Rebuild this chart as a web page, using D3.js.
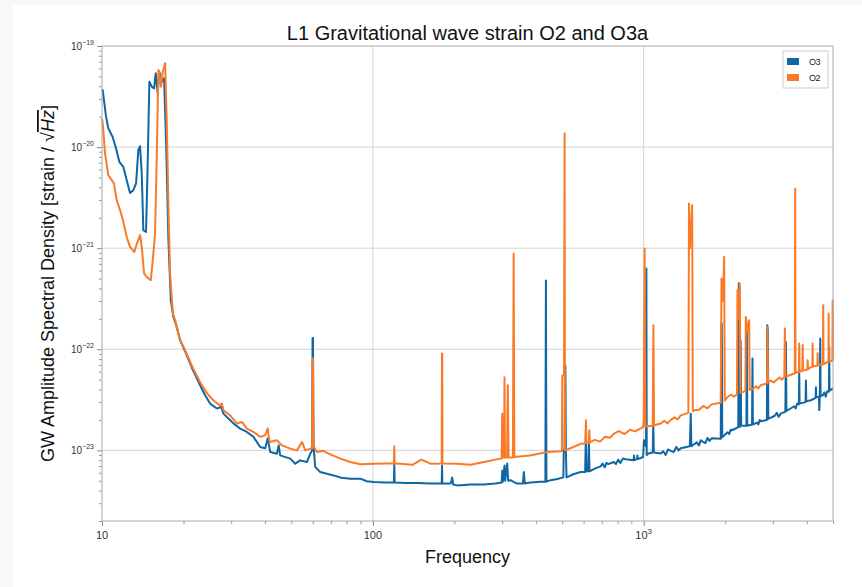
<!DOCTYPE html>
<html>
<head>
<meta charset="utf-8">
<script src="https://cdn.jsdelivr.net/npm/d3@7"></script>
<style>
  body { margin: 0; background: #f8f8f8; }
  svg { display: block; }
</style>
</head>
<body>
<div id="chart"></div>
<script>
// O3 (blue) and O2 (orange) amplitude spectral density, [frequency Hz, strain/sqrt(Hz)]
const o3 = [
  [10.0, 3.7e-20], [10.06, 3.66e-20], [10.35, 2.0e-20], [10.55, 1.53e-20], [10.95, 1.26e-20], [11.27, 9.7e-21],
  [11.59, 7.15e-21], [11.99, 6.38e-21], [12.34, 4.71e-21], [12.69, 3.51e-21], [13.05, 3.75e-21], [13.36, 4.37e-21],
  [13.62, 9.34e-21], [13.82, 1.02e-20], [14.02, 5.49e-21], [14.21, 1.51e-21], [14.54, 1.45e-21], [14.70, 4.71e-21],
  [14.96, 4.43e-20], [15.27, 3.96e-20], [15.57, 3.81e-20], [15.79, 5.37e-20], [16.06, 3.40e-20], [16.28, 5.57e-20],
  [16.63, 4.43e-20], [16.95, 4.79e-20], [17.24, 1.17e-20], [17.59, 1.20e-21], [17.95, 3.05e-22], [18.35, 2.09e-22],
  [18.88, 1.66e-22], [19.42, 1.23e-22], [20.27, 9.55e-23], [21.51, 6.49e-23], [23.03, 4.41e-23], [24.03, 3.51e-23],
  [25.07, 2.90e-23], [26.55, 2.59e-23], [27.54, 2.69e-23], [28.08, 2.31e-23], [30.57, 1.84e-23], [32.37, 1.64e-23],
  [34.27, 1.52e-23], [36.25, 1.36e-23], [38.37, 1.08e-23], [40.05, 1.05e-23], [40.91, 1.32e-23], [41.80, 9.62e-24],
  [44.25, 9.27e-24], [44.9, 1.12e-23], [45.5, 8.91e-24], [49.55, 8.28e-24], [51.71, 7.38e-24], [53.95, 7.96e-24],
  [57.11, 7.66e-24], [58.75, 9.27e-24], [59.7, 1.0e-23], [59.9, 1.29e-22], [60.1, 1.29e-22], [60.4, 1.1e-23],
  [61.28, 6.84e-24], [63.03, 6.34e-24], [63.95, 6.10e-24], [71.62, 5.65e-24], [76.5, 5.35e-24], [82.57, 5.25e-24],
  [89.9, 5.25e-24], [95, 4.95e-24], [100.7, 4.86e-24], [111.2, 4.8e-24], [119.6, 4.8e-24], [120.0, 7.4e-24],
  [120.4, 4.8e-24], [131.9, 4.75e-24], [145.7, 4.75e-24], [163.2, 4.7e-24], [179.6, 4.7e-24], [180.1, 7.1e-24],
  [180.6, 4.7e-24], [194, 4.7e-24], [196.3, 5.4e-24], [198, 4.6e-24], [204.8, 4.5e-24], [229.4, 4.6e-24],
  [256.9, 4.6e-24], [283.8, 4.7e-24], [299, 4.8e-24], [300.4, 6.3e-24], [302, 4.9e-24], [306.3, 7.1e-24],
  [308, 5.0e-24], [313.4, 7.4e-24], [316, 5.0e-24], [322.3, 5.07e-24], [339.2, 4.7e-24], [358, 4.7e-24],
  [361, 6.1e-24], [364, 4.7e-24], [382.2, 4.8e-24], [416.2, 4.9e-24], [433.5, 4.9e-24], [435.5, 4.8e-22],
  [437.5, 4.9e-24], [453.3, 5.07e-24], [480, 5.2e-24], [505, 5.4e-24], [507, 1.0e-23], [510, 1.0e-23],
  [512, 4.0e-23], [514, 6.9e-23], [516, 1.0e-23], [519, 5.4e-24], [550, 5.8e-24], [584.9, 6.1e-24],
  [608, 6.1e-24], [612, 1.58e-23], [615, 6.2e-24], [624, 6.2e-24], [628, 1.16e-23], [631, 6.2e-24],
  [660, 6.6e-24], [693.6, 6.95e-24], [705, 7.4e-24], [718, 6.8e-24], [728, 7.5e-24], [740, 7.3e-24],
  [776.8, 7.66e-24], [790, 7.3e-24], [805, 8.1e-24], [820, 7.5e-24], [838, 8.3e-24], [858, 8.15e-24],
  [918, 8.0e-24], [921, 8.9e-24], [924, 8.0e-24], [945, 8.2e-24], [948, 8.9e-24], [951, 8.2e-24],
  [974.8, 8.4e-24], [995, 8.6e-24], [1002.5, 1.26e-23], [1020, 1.1e-23], [1023, 6.3e-22], [1026, 9.0e-24],
  [1040, 9.3e-24], [1080, 9.5e-24], [1085, 1.9e-23], [1090, 9.5e-24], [1156, 9.3e-24], [1180, 9.8e-24],
  [1205, 9.0e-24], [1230, 1.02e-23], [1260, 9.9e-24], [1290, 9.6e-24], [1320, 1.08e-23], [1345, 1.0e-23],
  [1370, 1.05e-23], [1480, 1.1e-23], [1492, 2.3e-23], [1500, 1.1e-23], [1535, 1.15e-23], [1570, 1.2e-23],
  [1600, 1.12e-23], [1625, 1.26e-23], [1650, 1.22e-23], [1690, 1.18e-23], [1720, 1.33e-23], [1750, 1.24e-23],
  [1784, 1.32e-23], [1925, 1.3e-23], [1936, 1.8e-22], [1942, 1.8e-22], [1950, 1.35e-23], [2039, 1.51e-23],
  [2070, 1.45e-23], [2095, 1.6e-23], [2120, 1.58e-23], [2235, 1.7e-23], [2245, 4.5e-22], [2255, 4.0e-22],
  [2265, 1.7e-23], [2280, 1.23e-22], [2290, 1.75e-23], [2395, 1.75e-23], [2403, 1.54e-22], [2412, 1.75e-23],
  [2512, 1.8e-23], [2522, 8.1e-23], [2530, 1.8e-23], [2620, 1.88e-23], [2650, 1.8e-23], [2680, 2.0e-23],
  [2707, 1.94e-23], [2850, 2.0e-23], [2860, 1.73e-22], [2875, 1.5e-22], [2885, 2.05e-23], [3050, 2.2e-23],
  [3100, 2.35e-23], [3150, 2.15e-23], [3210, 2.32e-23], [3335, 2.4e-23], [3350, 1.18e-22], [3365, 2.45e-23],
  [3595, 2.73e-23], [3640, 2.6e-23], [3690, 2.9e-23], [3740, 2.85e-23], [3752, 5.75e-23], [3765, 2.9e-23],
  [3960, 3.0e-23], [3972, 4.9e-23], [3985, 3.05e-23], [4144, 3.13e-23], [4315, 3.3e-23], [4325, 4.2e-23],
  [4335, 3.35e-23], [4440, 3.4e-23], [4448, 2.5e-23], [4470, 3.4e-23], [4486, 1.28e-22], [4500, 3.45e-23],
  [4591, 3.51e-23], [4650, 3.75e-23], [4700, 3.4e-23], [4760, 3.85e-23], [4830, 3.8e-23], [4842, 1.05e-22],
  [4855, 3.9e-23], [5000, 4.11e-23]
];

const o2 = [
  [10.0, 1.9e-20], [10.06, 1.72e-20], [10.26, 8.67e-21], [10.55, 5.28e-21], [10.86, 4.71e-21], [11.07, 4.37e-21],
  [11.33, 2.99e-21], [11.66, 2.38e-21], [11.99, 1.82e-21], [12.34, 1.29e-21], [12.69, 1.03e-21], [13.16, 9.19e-22],
  [13.51, 1.15e-21], [13.82, 1.35e-21], [14.02, 1.03e-21], [14.30, 5.62e-22], [14.63, 5.20e-22], [15.14, 4.82e-22],
  [15.40, 7.61e-22], [15.70, 1.40e-21], [15.93, 8.02e-21], [16.15, 5.78e-20], [16.38, 4.97e-20], [16.52, 3.96e-20],
  [16.76, 5.57e-20], [17.10, 6.75e-20], [17.35, 1.72e-20], [17.59, 2.56e-21], [17.84, 5.62e-22], [18.26, 2.26e-22],
  [18.62, 1.94e-22], [19.15, 1.43e-22], [19.42, 1.23e-22], [20.27, 9.77e-23], [21.51, 6.79e-23], [23.03, 4.71e-23],
  [24.44, 3.66e-23], [25.77, 3.13e-23], [27.15, 2.79e-23], [27.7, 2.90e-23], [28.08, 2.49e-23], [29.72, 2.22e-23],
  [31.48, 1.84e-23], [32.85, 1.91e-23], [34.27, 1.64e-23], [36.25, 1.52e-23], [38.37, 1.36e-23], [40.05, 1.41e-23],
  [40.91, 1.65e-23], [41.55, 1.21e-23], [44.25, 1.26e-23], [46.17, 1.12e-23], [49.55, 1.04e-23], [52.47, 1.0e-23],
  [54.74, 1.21e-23], [56.31, 1.0e-23], [58.75, 1.04e-23], [59.7, 1.04e-23], [59.9, 8.09e-23], [60.1, 8.09e-23],
  [60.4, 1.1e-23], [62.18, 9.62e-24], [65.5, 9.9e-24], [69.63, 9.12e-24], [75.86, 8.28e-24], [82.57, 7.66e-24],
  [90, 7.3e-24], [100.7, 7.38e-24], [111.2, 7.43e-24], [119.6, 7.4e-24], [120.0, 1.1e-23], [120.4, 7.4e-24],
  [126.4, 7.38e-24], [140, 7.2e-24], [151.1, 8.09e-24], [163.2, 7.38e-24], [179.6, 7.4e-24], [180.0, 9.06e-23],
  [180.4, 9.06e-23], [180.8, 7.4e-24], [204.8, 7.38e-24], [230, 7.2e-24], [256.9, 7.66e-24], [296, 8.28e-24],
  [299, 8.3e-24], [300.4, 2.3e-23], [302, 8.5e-24], [305, 8.5e-24], [306.3, 5.3e-23], [307.5, 8.5e-24],
  [313, 8.5e-24], [315, 4.4e-23], [317, 8.5e-24], [329, 8.5e-24], [331, 8.87e-22], [333, 8.6e-24],
  [380, 8.9e-24], [440.6, 9.62e-24], [499, 9.8e-24], [500.5, 5.5e-23], [508, 5.5e-23], [510.5, 1.37e-20],
  [512, 1.0e-23], [550, 1.08e-23], [584.9, 1.16e-23], [609, 1.17e-23], [612, 1.98e-23], [615, 1.18e-23],
  [627, 1.19e-23], [630, 1.58e-23], [633, 1.2e-23], [660, 1.27e-23], [690, 1.22e-23], [720, 1.36e-23],
  [750, 1.33e-23], [776.8, 1.46e-23], [810, 1.55e-23], [850, 1.45e-23], [890, 1.6e-23], [930, 1.54e-23],
  [974.8, 1.65e-23], [995, 1.7e-23], [1000, 2.0e-23], [1008, 9.9e-22], [1014, 1.72e-23], [1080, 1.75e-23],
  [1086, 1.73e-22], [1092, 1.77e-23], [1156, 1.84e-23], [1190, 1.96e-23], [1225, 1.85e-23], [1260, 2.0e-23],
  [1300, 2.12e-23], [1335, 2.02e-23], [1370, 2.22e-23], [1462, 2.35e-23], [1470, 2.77e-21], [1482, 1.0e-21],
  [1510, 2.67e-21], [1518, 2.45e-23], [1535, 2.49e-23], [1600, 2.52e-23], [1660, 2.75e-23], [1720, 2.6e-23],
  [1780, 2.85e-23], [1925, 2.95e-23], [1938, 5.0e-22], [1960, 3.0e-22], [1982, 8.2e-22], [1992, 3.1e-23],
  [2039, 3.37e-23], [2100, 3.55e-23], [2160, 3.4e-23], [2210, 3.6e-23], [2220, 3.84e-22], [2240, 2.0e-22],
  [2264, 4.47e-22], [2275, 3.7e-23], [2375, 3.85e-23], [2383, 2.09e-22], [2420, 1.5e-22], [2451, 1.94e-22],
  [2462, 3.95e-23], [2530, 4.05e-23], [2600, 4.3e-23], [2650, 4.1e-23], [2707, 4.41e-23], [2855, 4.6e-23],
  [2866, 1.66e-22], [2878, 4.7e-23], [2950, 4.9e-23], [3020, 4.7e-23], [3100, 5.0e-23], [3170, 5.25e-23],
  [3240, 5.0e-23], [3305, 5.3e-23], [3321, 1.6e-22], [3335, 5.35e-23], [3595, 5.75e-23], [3615, 5.8e-23],
  [3626, 3.9e-21], [3636, 5.85e-23], [3740, 6.0e-23], [3752, 1.14e-22], [3765, 6.0e-23], [3850, 6.1e-23],
  [3863, 1.1e-22], [3875, 6.15e-23], [4020, 6.3e-23], [4030, 7.78e-23], [4045, 6.35e-23], [4144, 6.64e-23],
  [4195, 6.7e-23], [4205, 1.14e-22], [4215, 6.75e-23], [4380, 6.9e-23], [4388, 9.12e-23], [4398, 6.95e-23],
  [4450, 7.2e-23], [4520, 6.9e-23], [4590, 7.1e-23], [4601, 2.73e-22], [4612, 7.15e-23], [4777, 7.48e-23],
  [4810, 7.5e-23], [4818, 2.26e-22], [4830, 7.55e-23], [4975, 7.7e-23], [4985, 3.05e-22], [5000, 7.78e-23]
];

const xMajor = [10, 100, 1000];
const xMajorLabels = [["10", ""], ["100", ""], ["10", "3"]];
const yMajor = [1e-23, 1e-22, 1e-21, 1e-20, 1e-19];
const yMajorExp = ["\u221223", "\u221222", "\u221221", "\u221220", "\u221219"];
const seriesNames = ["O3", "O2"];
const seriesColors = ["#0f67a6", "#fb7a26"];

const W = 862, H = 587;
const margin = { top: 46, right: 29, bottom: 66, left: 102 };
const width = W - margin.left - margin.right;
const height = H - margin.top - margin.bottom;

const svg = d3.select("#chart").append("svg")
    .attr("width", W)
    .attr("height", H)
    .style("font-family", "'Liberation Sans', Arial, sans-serif");

svg.append("rect")
    .attr("x", 13).attr("y", 5)
    .attr("width", W - 13).attr("height", H - 5)
    .attr("fill", "#fff");

const g = svg.append("g").attr("transform", `translate(${margin.left}, ${margin.top})`);

const x = d3.scaleLog().domain([10, 5000]).range([0, width]);
const y = d3.scaleLog().domain([2e-24, 1e-19]).range([height, 0]);

// grid
g.selectAll(".hgrid").data(yMajor.filter(v => v < 1e-19)).enter().append("line")
    .attr("x1", 0).attr("x2", width)
    .attr("y1", d => y(d)).attr("y2", d => y(d))
    .attr("stroke", "#d3d3d3").attr("stroke-width", 1);
g.selectAll(".vgrid").data(xMajor.filter(v => v > 10)).enter().append("line")
    .attr("y1", 0).attr("y2", height)
    .attr("x1", d => x(d)).attr("x2", d => x(d))
    .attr("stroke", "#d3d3d3").attr("stroke-width", 1);

// minor ticks
const xMinor = [];
[10, 100, 1000].forEach(b => { for (let k = 2; k <= 9; k++) if (b * k <= 5000) xMinor.push(b * k); });
const yMinor = [];
[1e-24, 1e-23, 1e-22, 1e-21, 1e-20].forEach(b => { for (let k = 2; k <= 9; k++) if (b * k >= 2e-24) yMinor.push(b * k); });

g.append("g").attr("transform", `translate(0, ${height})`)
    .call(d3.axisBottom(x).tickValues(xMinor).tickSize(3).tickFormat(""))
    .call(a => a.select(".domain").remove())
    .call(a => a.selectAll("line").attr("stroke", "#999"));
g.append("g").attr("transform", `translate(0, ${height})`)
    .call(d3.axisBottom(x).tickValues(xMajor).tickSize(5).tickFormat(""))
    .call(a => a.select(".domain").remove())
    .call(a => a.selectAll("line").attr("stroke", "#888"));

g.append("g").call(d3.axisLeft(y).tickValues(yMinor).tickSize(3).tickFormat(""))
    .call(a => a.select(".domain").remove())
    .call(a => a.selectAll("line").attr("stroke", "#999"));
g.append("g").call(d3.axisLeft(y).tickValues(yMajor).tickSize(5).tickFormat(""))
    .call(a => a.select(".domain").remove())
    .call(a => a.selectAll("line").attr("stroke", "#888"));

// tick labels
const xl = g.selectAll(".xlab").data(xMajor).enter().append("text")
    .attr("x", d => x(d)).attr("y", height + 18)
    .attr("text-anchor", "middle")
    .attr("font-size", 11).attr("fill", "#333");
xl.append("tspan").text((d, i) => xMajorLabels[i][0]);
xl.append("tspan").attr("dy", -5).attr("font-size", 8).text((d, i) => xMajorLabels[i][1]);

const yl = g.selectAll(".ylab").data(yMajor).enter().append("text")
    .attr("x", -8).attr("y", d => y(d) + 4)
    .attr("text-anchor", "end")
    .attr("font-size", 10).attr("fill", "#333");
yl.append("tspan").text("10");
yl.append("tspan").attr("dy", -5).attr("font-size", 7).text((d, i) => yMajorExp[i]);

// curves
const line = d3.line().x(d => x(d[0])).y(d => y(d[1]));
[o3, o2].forEach((s, i) => {
    g.append("path")
        .datum(s)
        .attr("fill", "none")
        .attr("stroke", seriesColors[i])
        .attr("stroke-width", 2)
        .attr("stroke-linejoin", "round")
        .attr("d", line);
});

// frame
g.append("rect")
    .attr("width", width).attr("height", height)
    .attr("fill", "none").attr("stroke", "#aaa").attr("stroke-width", 1);

// legend
const lg = g.append("g").attr("transform", `translate(${width - 50}, 5)`);
lg.append("rect").attr("width", 45).attr("height", 37)
    .attr("fill", "#fff").attr("stroke", "#ccc");
seriesNames.forEach((n, i) => {
    lg.append("rect").attr("x", 4).attr("y", 7 + i * 16).attr("width", 12).attr("height", 7)
        .attr("fill", seriesColors[i]);
    lg.append("text").attr("x", 26).attr("y", 14 + i * 16)
        .attr("font-size", 9).attr("letter-spacing", -0.6).attr("fill", "#222").text(n);
});

// titles
svg.append("text")
    .attr("x", margin.left + width / 2).attr("y", 40)
    .attr("text-anchor", "middle")
    .attr("font-size", 20).attr("fill", "#111")
    .text("L1 Gravitational wave strain O2 and O3a");

svg.append("text")
    .attr("x", margin.left + width / 2).attr("y", 563)
    .attr("text-anchor", "middle")
    .attr("font-size", 18).attr("fill", "#111")
    .text("Frequency");

const yt = svg.append("text")
    .attr("transform", `translate(54, ${margin.top + height / 2}) rotate(-90)`)
    .attr("text-anchor", "middle")
    .attr("font-size", 18).attr("fill", "#111");
yt.append("tspan").text("GW Amplitude Spectral Density [strain / \u221A");
yt.append("tspan").attr("font-style", "italic").style("text-decoration", "overline").text("Hz");
yt.append("tspan").text("]");
</script>
</body>
</html>
